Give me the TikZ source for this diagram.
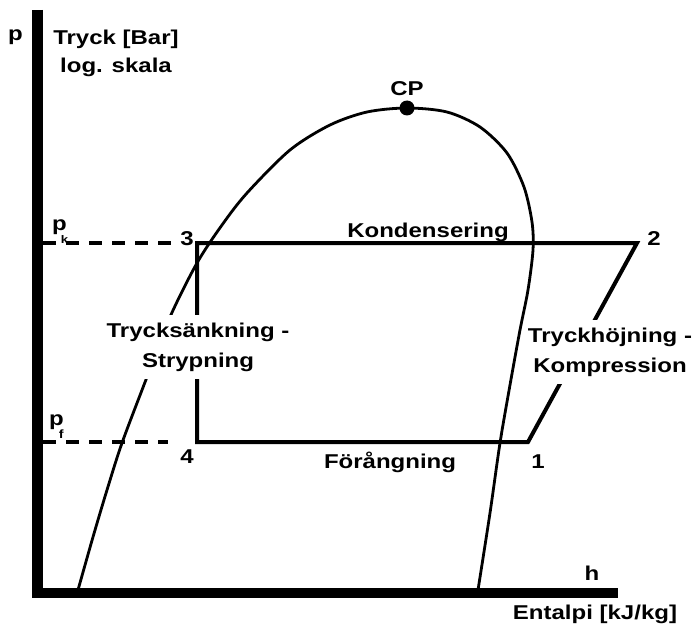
\documentclass[tikz,border=0pt]{standalone}
\usepackage{fontspec}
\setmainfont{Liberation Sans}[FakeStretch=1.2]
\usetikzlibrary{positioning}

\begin{document}
\begin{tikzpicture}[x=1pt, y=-1pt,
  lbl/.style={font=\fontsize{20}{30}\selectfont\bfseries, inner sep=0pt},
  axisline/.style={line width=10.5pt, line join=miter},
  cycleline/.style={line width=4pt, line join=miter},
  dome/.style={line width=2.8pt},
  pline/.style={line width=4pt, dash pattern=on 13pt off 10pt},
  gap/.style={lbl, fill=white, inner xsep=2pt, inner ysep=8pt, align=center}
]
  \useasboundingbox (0,0) rectangle (697,634);

  % Axes
  \coordinate (ptop) at (37.5,10);
  \coordinate (origin) at (37.5,593);
  \coordinate (hend) at (618,593);
  \draw[axisline] (ptop) -- (origin) -- (hend);
  \node[lbl, anchor=base] (paxis) at (15.5,41) {p};
  \node[lbl, align=center, font=\fontsize{20}{28}\selectfont\bfseries] (ptitle) at (116,53) {Tryck [Bar]\\log. skala};
  \node[lbl, anchor=base] (haxis) at (592,580) {h};
  \node[lbl, anchor=base] (htitle) at (595,619) {Entalpi [kJ/kg]};

  % Saturation dome
  \draw[dome] plot[smooth, tension=0.5] coordinates {(78,590) (93,537) (107,490) (122,443) (147,377) (170,317) (197,263) (222,225) (247,193) (290,150) (330,125) (367,112) (407,108) (447,112) (480,127) (507,153) (524,187) (532,222) (533,250) (528,290) (520,330) (510,385) (500,443) (490,513) (478,590)};
  \coordinate (cp) at (407,108);
  \fill (cp) circle (7.5pt);
  \node[lbl, above=12pt of cp] (cplabel) {CP};

  % Cycle
  \coordinate (p1) at (528,442);
  \coordinate (p2) at (637,243);
  \coordinate (p3) at (197,243);
  \coordinate (p4) at (197,442);
  \draw[cycleline] (p3) -- (p2) -- (p1) -- (p4) -- cycle;
  \node[lbl, anchor=base] (n1) at (538,468) {1};
  \node[lbl, anchor=base] (n2) at (654,245) {2};
  \node[lbl, anchor=base] (n3) at (187,245) {3};
  \node[lbl, anchor=base] (n4) at (187,463) {4};

  % Pressure levels
  \coordinate (pkstart) at (43,243);
  \coordinate (pkend) at (173,243);
  \coordinate (pfstart) at (43,442);
  \coordinate (pfend) at (168,442);
  \draw[pline] (pkstart) -- (pkend);
  \draw[pline] (pfstart) -- (pfend);
  \node[lbl, anchor=base west] (pk) at (52,230) {p\kern-6pt\raisebox{-13pt}{\fontsize{11}{11}\selectfont k}};
  \node[lbl, anchor=base west] (pf) at (49,425) {p\kern-5pt\raisebox{-13pt}{\fontsize{12}{12}\selectfont f}};

  % Processes
  \node[lbl, anchor=base] (kond) at (428,237) {Kondensering};
  \node[lbl, anchor=base] (forang) at (390,468) {Förångning};
  \node[gap] (stryp) at (198,347) {Trycksänkning -\\Strypning};
  \node[gap] (kompr) at (610,352) {Tryckhöjning -\\Kompression};
\end{tikzpicture}
\end{document}
